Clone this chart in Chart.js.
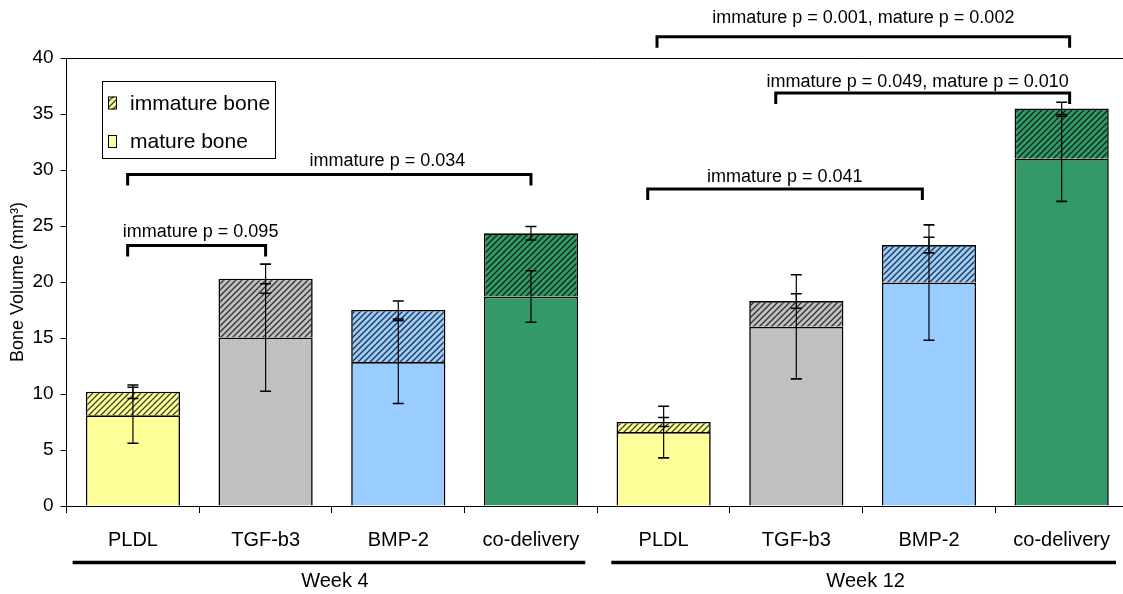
<!DOCTYPE html>
<html>
<head>
<meta charset="utf-8">
<script src="https://cdn.jsdelivr.net/npm/chart.js@4"></script>
<style>
  html, body { margin: 0; padding: 0; background: #fff; overflow: hidden; }
  canvas { display: block; }
</style>
</head>
<body>
<canvas id="boneCanvas" width="1130" height="594"></canvas>
<script>
const categories = ['PLDL', 'TGF-b3', 'BMP-2', 'co-delivery', 'PLDL', 'TGF-b3', 'BMP-2', 'co-delivery'];
const weeks = [
  { label: 'Week 4', from: 0, to: 3 },
  { label: 'Week 12', from: 4, to: 7 }
];

// bone volume, mm^3
const matureBone   = [8.1, 15.05, 12.85, 18.7, 6.6, 16.0, 19.95, 31.0];
const immatureBone = [2.1, 5.25, 4.65, 5.65, 0.9, 2.3, 3.35, 4.5];
const matureErr    = [2.5, 4.8, 3.7, 2.3, 2.3, 4.65, 5.15, 3.8];
const totalErr     = [0.6, 1.3, 0.8, 0.6, 0.4, 0.65, 0.7, 0.55];

// significance brackets (x in category index units, y in mm^3)
const comparisons = [
  { label: 'immature p = 0.095', from: -0.04, to: 1.0, y: 23.27, textX: 0.51, textY: 24.45 },
  { label: 'immature p = 0.034', from: -0.04, to: 3.0, y: 29.6, textX: 1.918, textY: 30.83 },
  { label: 'immature p = 0.041', from: 3.88, to: 5.95, y: 28.3, textX: 4.913, textY: 29.4 },
  { label: 'immature p = 0.049, mature p = 0.010', from: 4.845, to: 7.06, y: 36.87, textX: 5.915, textY: 37.88 },
  { label: 'immature p = 0.001, mature p = 0.002', from: 3.95, to: 7.06, y: 41.9, textX: 5.505, textY: 43.54 }
];

const groupColors = ['#FFFF99', '#C0C0C0', '#99CCFF', '#339966'];
const FONT = 'Liberation Sans, Arial, sans-serif';

function hatch(color) {
  const c = document.createElement('canvas');
  c.width = 6; c.height = 6;
  const g = c.getContext('2d');
  g.fillStyle = color;
  g.fillRect(0, 0, 6, 6);
  g.strokeStyle = 'rgba(0,0,0,0.75)';
  g.lineWidth = 1.3;
  g.beginPath();
  g.moveTo(0, 6); g.lineTo(6, 0);
  g.moveTo(-1, 1); g.lineTo(1, -1);
  g.moveTo(5, 7); g.lineTo(7, 5);
  g.stroke();
  return g.createPattern(c, 'repeat');
}

const solidFill = categories.map((_, i) => groupColors[i % 4]);
const hatchFill = categories.map((_, i) => hatch(groupColors[i % 4]));

const errorBars = {
  id: 'errorBars',
  afterDatasetsDraw(chart) {
    const ctx = chart.ctx;
    const xs = chart.scales.x, ys = chart.scales.y;
    ctx.save();
    ctx.strokeStyle = '#000';
    const bar = (x, v, e) => {
      const top = ys.getPixelForValue(v + e), bot = ys.getPixelForValue(v - e);
      ctx.lineWidth = 1.2;
      ctx.beginPath();
      ctx.moveTo(x, top); ctx.lineTo(x, bot);
      ctx.stroke();
      ctx.lineWidth = 1.6;
      ctx.beginPath();
      ctx.moveTo(x - 5.5, top); ctx.lineTo(x + 5.5, top);
      ctx.moveTo(x - 5.5, bot); ctx.lineTo(x + 5.5, bot);
      ctx.stroke();
    };
    for (let i = 0; i < categories.length; i++) {
      const x = xs.getPixelForValue(i);
      bar(x, matureBone[i], matureErr[i]);
      bar(x, matureBone[i] + immatureBone[i], totalErr[i]);
    }
    ctx.restore();
  }
};

const decorations = {
  id: 'decorations',
  afterDraw(chart) {
    const ctx = chart.ctx;
    const xs = chart.scales.x, ys = chart.scales.y;
    const area = chart.chartArea;
    ctx.save();

    // top frame line
    ctx.strokeStyle = '#000';
    ctx.lineWidth = 1;
    ctx.beginPath();
    ctx.moveTo(area.left, area.top + 0.5);
    ctx.lineTo(area.right, area.top + 0.5);
    ctx.stroke();

    // brackets
    ctx.lineWidth = 3;
    ctx.lineJoin = 'miter';
    ctx.font = '18px ' + FONT;
    ctx.textAlign = 'center';
    ctx.textBaseline = 'middle';
    ctx.fillStyle = '#000';
    comparisons.forEach(c => {
      const x1 = xs.getPixelForValue(c.from), x2 = xs.getPixelForValue(c.to);
      const y = ys.getPixelForValue(c.y);
      ctx.beginPath();
      ctx.moveTo(x1, y + 11); ctx.lineTo(x1, y); ctx.lineTo(x2, y); ctx.lineTo(x2, y + 11);
      ctx.stroke();
      ctx.fillText(c.label, xs.getPixelForValue(c.textX), ys.getPixelForValue(c.textY));
    });

    // week groups under the axis
    ctx.font = '20px ' + FONT;
    weeks.forEach((w, k) => {
      const left = xs.getPixelForValue(w.from - 0.5), right = xs.getPixelForValue(w.to + 0.5);
      ctx.lineWidth = 3.5;
      ctx.beginPath();
      ctx.moveTo(left + (k === 0 ? 6 : 14), 562.5);
      ctx.lineTo(right - 12, 562.5);
      ctx.stroke();
      ctx.fillText(w.label, (left + right) / 2 + 3, 581);
    });

    // legend box inside plot
    const ds = chart.data.datasets;
    const lx = 102, ly = 81, lw = 173, lh = 77;
    ctx.fillStyle = '#fff';
    ctx.fillRect(lx, ly, lw, lh);
    ctx.lineWidth = 1;
    ctx.strokeStyle = '#000';
    ctx.strokeRect(lx + 0.5, ly + 0.5, lw, lh);
    ctx.font = '21px ' + FONT;
    ctx.textAlign = 'left';
    [ds[1], ds[0]].forEach((d, j) => {
      const cy = 103 + j * 38.5;
      ctx.fillStyle = d.backgroundColor[0];
      ctx.fillRect(108, cy - 6.5, 9, 13);
      ctx.strokeStyle = '#000';
      ctx.strokeRect(108.5, cy - 6, 8, 12);
      ctx.fillStyle = '#000';
      ctx.fillText(d.label, 130, cy + 1);
    });
    ctx.restore();
  }
};

new Chart(document.getElementById('boneCanvas'), {
  type: 'bar',
  data: {
    labels: categories,
    datasets: [
      {
        label: 'mature bone',
        data: matureBone,
        backgroundColor: solidFill,
        borderColor: '#000',
        borderWidth: 1.6,
        barPercentage: 0.71,
        categoryPercentage: 1
      },
      {
        label: 'immature bone',
        data: immatureBone,
        backgroundColor: hatchFill,
        borderColor: '#000',
        borderWidth: 1.6,
        barPercentage: 0.71,
        categoryPercentage: 1
      }
    ]
  },
  options: {
    responsive: false,
    animation: false,
    devicePixelRatio: 1,
    layout: { padding: { top: 58, right: 2, left: 0, bottom: 0 } },
    plugins: {
      legend: { display: false },
      tooltip: { enabled: false }
    },
    scales: {
      x: {
        stacked: true,
        grid: { drawOnChartArea: false, color: '#000', tickLength: 7, offset: true },
        border: { color: '#000', width: 1 },
        ticks: { color: '#000', font: { family: FONT, size: 20 }, padding: 15, maxRotation: 0, autoSkip: false },
        afterFit(scale) { scale.height = 88; }
      },
      y: {
        stacked: true,
        min: 0,
        max: 40,
        ticks: { stepSize: 5, color: '#000', font: { family: FONT, size: 19 }, padding: 7 },
        grid: { drawOnChartArea: false, color: '#000', tickLength: 6 },
        border: { color: '#000', width: 1 },
        title: {
          display: true,
          text: 'Bone Volume (mm³)',
          color: '#000',
          font: { family: FONT, size: 18 },
          padding: { top: 7, bottom: 0 }
        },
        afterFit(scale) { scale.width = 66.6; }
      }
    }
  },
  plugins: [errorBars, decorations]
});
</script>
</body>
</html>
